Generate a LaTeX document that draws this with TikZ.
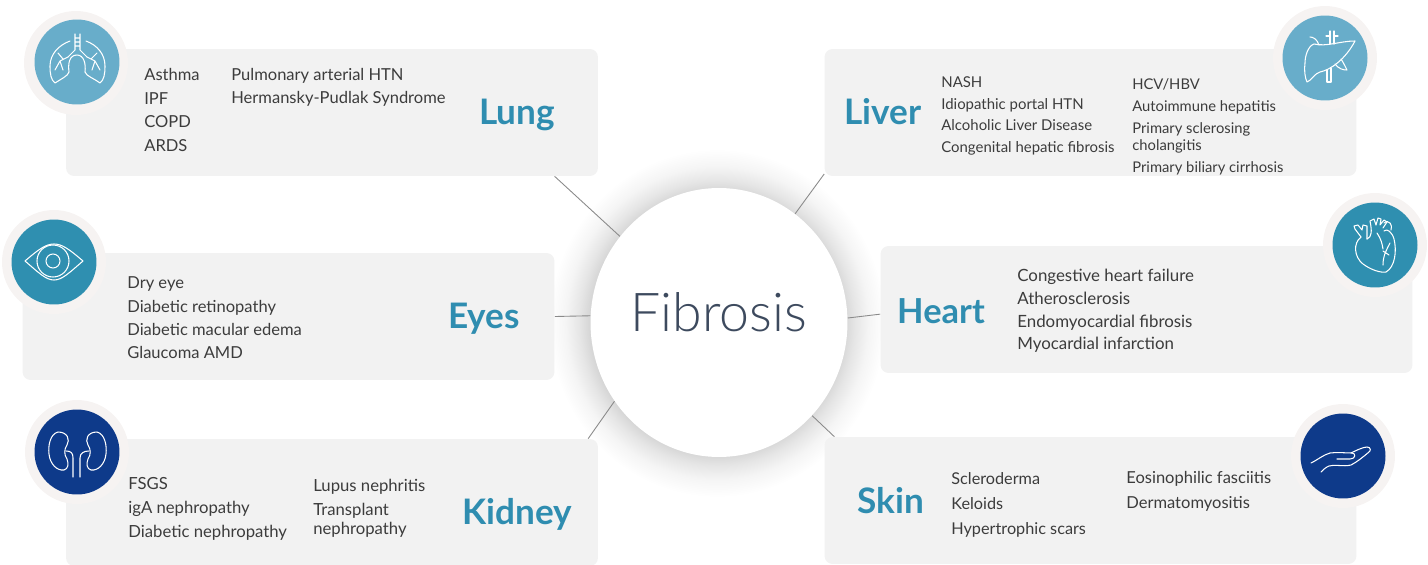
\documentclass[tikz,border=0pt]{standalone}
\usepackage{fontspec}
\setmainfont{Lato}
\newfontfamily\hubfont{Lato Light}
\usetikzlibrary{shapes.geometric}
\definecolor{panelgray}{HTML}{F2F2F2}
\definecolor{ringgray}{HTML}{F6F3F2}
\definecolor{linegray}{HTML}{8A8A8A}
\definecolor{bodytext}{HTML}{3C3C3C}
\definecolor{headblue}{HTML}{2F8DB0}
\definecolor{iconpale}{HTML}{68ADCA}
\definecolor{iconmid}{HTML}{2F8FB0}
\definecolor{icondark}{HTML}{0E3A8A}
\definecolor{hubtext}{HTML}{3D4A5E}
\pgfdeclareradialshading{hubglow}{\pgfpoint{0bp}{0bp}}{color(0bp)=(black!16); color(19bp)=(black!16); color(20.5bp)=(black!10); color(22.5bp)=(black!4); color(25bp)=(white); color(50bp)=(white)}
\tikzset{
  panel/.style={rectangle,fill=panelgray,rounded corners=0.16cm,minimum width=10.64cm,minimum height=2.54cm,inner sep=0pt},
  ring/.style={circle,fill=ringgray,minimum size=2.08cm,inner sep=0pt},
  badge/.style={circle,fill=#1,minimum size=1.7cm,inner sep=0pt},
  items/.style={anchor=west,align=left,inner sep=0pt,text=bodytext,font=\fontsize{9.4}{13.3}\selectfont},
  head/.style={inner sep=0pt,text=headblue,font=\fontsize{20}{22}\selectfont\bfseries},
  spoke/.style={draw=linegray,line width=0.5pt},
  glyph/.style={draw=white,line width=0.6pt,line join=round,line cap=round}
}
\begin{document}
\begin{tikzpicture}[x=0.02cm,y=-0.02cm]
\useasboundingbox (0,0) rectangle (1428,565);
\shade[shading=hubglow] (717,323) ellipse (168 and 174);
\node[panel] (lung) at (332,112.5) {};
\node[panel] (liver) at (1090.5,112.5) {};
\node[panel] (eyes) at (288.5,316.5) {};
\node[panel] (heart) at (1146.5,309.5) {};
\node[panel] (kidney) at (332,502.5) {};
\node[panel] (skin) at (1090.5,500.5) {};
\node[ellipse,fill=white,minimum width=5.14cm,minimum height=5.38cm,inner sep=0pt,text=hubtext,font=\fontsize{30.5}{32}\selectfont\hubfont] (hub) at (719,322.5) {\smash{\raisebox{-5.4pt}{Fibrosis}}};
\draw[spoke] (lung.-16) -- (hub.139);
\draw[spoke] (liver.193.2) -- (hub.55.8);
\draw[spoke] (eyes.east) -- (hub.177.5);
\draw[spoke] (heart.181.6) -- (hub.2.5);
\draw[spoke] (kidney.14.4) -- (hub.217);
\draw[spoke] (skin.166.1) -- (hub.-45);
\node[ring] (lungring) at (76,63) {};
\node[ring] (liverring) at (1325,58) {};
\node[ring] (eyesring) at (54,262) {};
\node[ring] (heartring) at (1375,245) {};
\node[ring] (kidneyring) at (77,452) {};
\node[ring] (skinring) at (1343,456) {};
\node[badge=iconpale] (lungicon) at (77,62) {};
\node[badge=iconpale] (livericon) at (1325,58) {};
\node[badge=iconmid] (eyesicon) at (54,262) {};
\node[badge=iconmid] (hearticon) at (1375,245) {};
\node[badge=icondark] (kidneyicon) at (77,452) {};
\node[badge=icondark] (skinicon) at (1343,456) {};
\begin{scope}[shift={(lungicon.center)},glyph]
\draw (-2,-28) -- (-2,-12) -- (-9,-5) (3,-28) -- (3,-12) -- (10,-5) (-2,-24) -- (3,-24) (-2,-20) -- (3,-20) (-2,-16) -- (3,-16);
\draw (-7,-21) .. controls (-18,-17) and (-27,-8) .. (-27,4) .. controls (-27,12) and (-26,18) .. (-22,21) .. controls (-16,17) and (-9,14) .. (-8,10) .. controls (-9,2) and (-8,-7) .. (0,-7) .. controls (7,-7) and (9,2) .. (8,10) .. controls (9,14) and (18,17) .. (23,21) .. controls (27,18) and (28,12) .. (28,4) .. controls (28,-8) and (20,-17) .. (9,-21);
\draw (-9,-5) -- (-17,-1) -- (-22,8) (-17,-1) -- (-14,8) (-14,-3) -- (-19,-9) (10,-5) -- (18,-1) -- (23,8) (18,-1) -- (15,8) (14,-3) -- (20,-9);
\end{scope}
\begin{scope}[shift={(livericon.center)},glyph]
\draw (30,-17) .. controls (15,-17) and (2,-11) .. (-11,-14) .. controls (-17,-12) and (-20,-2) .. (-20,5) .. controls (-21,12) and (-20,20) .. (-18,24) .. controls (-14,23) and (-10,15) .. (-5,14) .. controls (5,12) and (20,2) .. (30,-17);
\draw (5,-14) -- (5,-27) (9,-14) -- (9,-27) (1,-22) -- (5,-22) (9,-22) -- (13,-22);
\draw (2,12) -- (2,24) -- (6,24) -- (6,10);
\draw (10,6) .. controls (14,11) and (18,12) .. (22,12) .. controls (20,8) and (18,4) .. (16,1);
\draw (-15,-21) .. controls (-12,-21) and (-8,-19) .. (-6,-13);
\end{scope}
\begin{scope}[shift={(eyesicon.center)},glyph]
\draw (-29,-1) .. controls (-15,-13) and (-8,-18) .. (0,-18) .. controls (8,-18) and (15,-13) .. (29,-1) .. controls (15,11) and (8,18) .. (0,18) .. controls (-8,18) and (-15,11) .. (-29,-1) -- cycle;
\draw (-1,-1) circle (16);
\draw (-1,-1) circle (7);
\end{scope}
\begin{scope}[shift={(hearticon.center)},glyph]
\draw (-14,-8) .. controls (-22,-2) and (-21,12) .. (-12,19) .. controls (-4,25) and (6,28) .. (11,27) .. controls (20,22) and (22,6) .. (19,-6) .. controls (17,-13) and (12,-17) .. (9,-14);
\draw (-14,-8) -- (-20,-16) -- (-21,-19) -- (-17,-20) -- (-13,-15) -- (-12,-20) -- (-8,-19) -- (-8,-6);
\draw (-8,-6) .. controls (-3,-8) and (-3,-14) .. (-5,-24) -- (-1,-26) -- (1,-20) -- (3,-27) -- (6,-26) -- (5,-20) -- (9,-25) -- (12,-23) -- (8,-17);
\draw (9,-22) .. controls (14,-26) and (18,-20) .. (16,-15) (2,-12) .. controls (6,-6) and (7,-2) .. (8,4) (15,-2) .. controls (12,4) and (8,10) .. (8,20) (8,6) -- (14,10);
\end{scope}
\begin{scope}[shift={(kidneyicon.center)},glyph]
\draw (-19,-20) .. controls (-27,-18) and (-29,-6) .. (-28,2) .. controls (-27,12) and (-20,19) .. (-13,18) .. controls (-9,17) and (-8,12) .. (-10,7) .. controls (-13,3) and (-13,-3) .. (-10,-7) .. controls (-7,-12) and (-9,-20) .. (-19,-20) -- cycle;
\draw (20,-20) .. controls (28,-18) and (30,-6) .. (29,2) .. controls (28,12) and (21,19) .. (14,18) .. controls (10,17) and (9,12) .. (11,7) .. controls (14,3) and (14,-3) .. (11,-7) .. controls (8,-12) and (10,-20) .. (20,-20) -- cycle;
\draw (-11,-1) .. controls (-6,-1) and (-4,1) .. (-4,6) -- (-4,25) (12,-1) .. controls (7,-1) and (3,1) .. (3,6) -- (3,25);
\end{scope}
\begin{scope}[shift={(skinicon.center)},glyph]
\draw (-32,7) .. controls (-24,3) and (-20,-1) .. (-13,-3) .. controls (-6,-4) and (2,-3) .. (9,-3) .. controls (13,-3) and (13,3) .. (7,3) -- (-6,3);
\draw (8,-3) .. controls (12,-5) and (20,-9) .. (24,-9) .. controls (28,-9) and (28,-5) .. (26,-4) .. controls (20,1) and (14,6) .. (8,9) .. controls (0,11) and (-8,8) .. (-14,10) .. controls (-17,11) and (-20,14) .. (-22,16);
\end{scope}
\node[items] (lunga) at (144,110) {Asthma\\IPF\\COPD\\ARDS};
\node[items] (lungb) at (231,87.5) {Pulmonary arterial HTN\\Hermansky-Pudlak Syndrome};
\node[head] (lunghead) at (517,115) {Lung};
\node[head] (liverhead) at (883,112) {Liver};
\node[items,font=\fontsize{8.5}{12.4}\selectfont] (livera) at (941,116) {NASH\\Idiopathic portal HTN\\Alcoholic Liver Disease\\Congenital hepatic fibrosis};
\node[items,font=\fontsize{8.4}{9.5}\selectfont] (liverb) at (1132,127) {HCV/HBV\\[3.2pt]Autoimmune hepatitis\\[3.2pt]Primary sclerosing\\cholangitis\\[3.2pt]Primary biliary cirrhosis};
\node[items] (eyesa) at (127,318) {Dry eye\\Diabetic retinopathy\\Diabetic macular edema\\Glaucoma AMD};
\node[head] (eyeshead) at (484,319) {Eyes};
\node[head,font=\fontsize{19.6}{22}\selectfont\bfseries] (hearthead) at (941,311) {Heart};
\node[items,font=\fontsize{9.6}{12.9}\selectfont] (hearta) at (1017,311) {Congestive heart failure\\Atherosclerosis\\Endomyocardial fibrosis\\Myocardial infarction};
\node[items,font=\fontsize{9.5}{13.6}\selectfont] (kidneya) at (128,509) {FSGS\\igA nephropathy\\Diabetic nephropathy};
\node[items,font=\fontsize{9.5}{10.8}\selectfont] (kidneyb) at (313,508) {Lupus nephritis\\[2.8pt]Transplant\\nephropathy};
\node[head] (kidneyhead) at (517,514) {Kidney};
\node[head] (skinhead) at (891,501) {Skin};
\node[items,font=\fontsize{9.25}{14.2}\selectfont] (skina) at (951,505) {Scleroderma\\Keloids\\Hypertrophic scars};
\node[items,font=\fontsize{9.4}{14.5}\selectfont] (skinb) at (1126,491.5) {Eosinophilic fasciitis\\Dermatomyositis};
\end{tikzpicture}
\end{document}
